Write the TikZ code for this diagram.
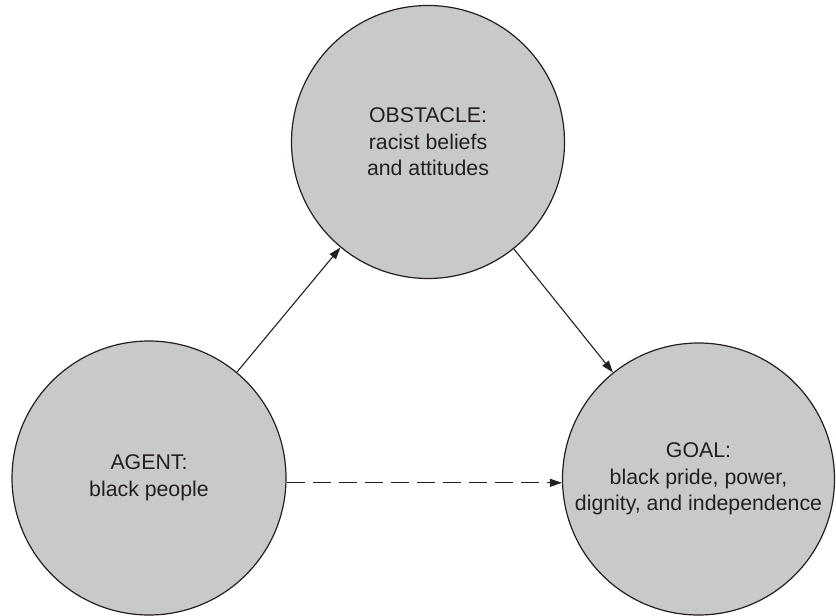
\documentclass[tikz,border=0pt]{standalone}
\usepackage{fontspec}
\setmainfont{Liberation Sans}
\usetikzlibrary{arrows.meta}
\definecolor{discfill}{RGB}{200,201,203}
\definecolor{ink}{RGB}{35,31,32}
\begin{document}
\begin{tikzpicture}[x=1pt,y=-1pt,
  disc/.style={circle,draw=ink,fill=discfill,line width=1.2pt,minimum size=#1,
    inner sep=0pt,align=center,text=ink,font=\fontsize{21.3}{26.5}\selectfont},
  link/.style={draw=ink,line width=1.1pt,-{Triangle[length=12pt,width=8pt]}},
  hint/.style={link,dash pattern=on 18pt off 8pt}]
\useasboundingbox (0,0) rectangle (836,616);
% the three circles
\node[disc=273pt] (obstacle) at (428,142) {OBSTACLE:\\racist beliefs\\and attitudes};
\node[disc=274pt] (agent) at (149,478) {AGENT:\\black people};
\node[disc=272pt] (goal) at (698.5,479) {GOAL:\\black pride, power,\\dignity, and independence};
% connectors
\draw[link] (agent) -- (obstacle);
\draw[link] (obstacle) -- (goal);
\draw[hint] (agent.-2) -- (goal.west |- agent.-2);
\end{tikzpicture}
\end{document}
